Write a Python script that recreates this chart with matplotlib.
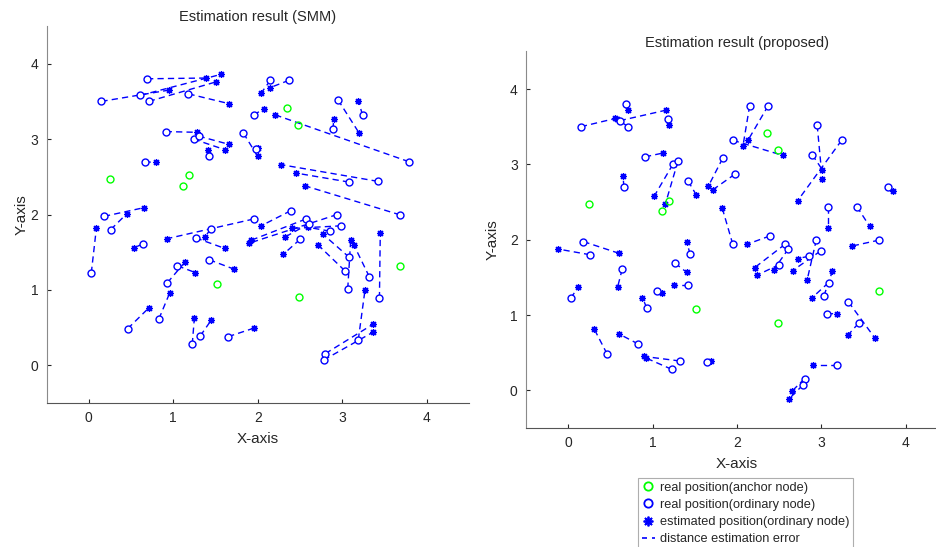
import matplotlib
matplotlib.use("Agg")
import matplotlib.pyplot as plt
from matplotlib.lines import Line2D

plt.rcParams['font.family'] = ['Liberation Sans', 'DejaVu Sans']

# Real positions of ordinary nodes (same in both panels)
real_x = [0.69, 0.15, 0.61, 0.71, 1.18, 0.91, 1.24, 1.30, 0.66, 1.42,
          1.83, 1.975, 1.95, 2.15, 2.37, 1.95, 2.95, 2.89, 3.24, 3.79,
          3.08, 3.42, 2.39, 2.57, 2.61, 2.50, 2.94, 2.99, 2.85, 3.085,
          3.03, 3.065, 3.32, 3.44, 3.19, 2.80, 2.78, 3.685, 0.18, 0.26,
          0.64, 0.03, 1.445, 1.265, 1.425, 1.05, 0.93, 0.46, 0.83, 1.32,
          1.225, 1.65]
real_y = [3.80, 3.50, 3.58, 3.50, 3.60, 3.10, 3.00, 3.04, 2.70, 2.78,
          3.08, 2.87, 1.94, 3.78, 3.78, 3.32, 3.52, 3.13, 3.32, 2.70,
          2.43, 2.44, 2.05, 1.94, 1.88, 1.67, 2.00, 1.85, 1.78, 1.43,
          1.255, 1.015, 1.175, 0.89, 0.34, 0.155, 0.07, 1.995, 1.975, 1.80,
          1.61, 1.225, 1.805, 1.69, 1.40, 1.32, 1.095, 0.485, 0.615, 0.39,
          0.28, 0.38]

# Estimated positions, SMM
smm_x = [1.39, 0.95, 1.57, 1.51, 1.66, 1.28, 1.61, 1.66, 0.79, 1.41,
         2.00, 2.00, 0.93, 2.04, 2.14, 2.07, 3.20, 2.90, 3.19, 2.21,
         2.45, 2.28, 2.04, 1.925, 2.32, 2.30, 1.90, 2.40, 2.595, 2.77,
         2.71, 3.10, 3.14, 3.45, 3.27, 3.365, 3.365, 2.56, 0.65, 0.45,
         0.54, 0.09, 1.37, 1.61, 1.72, 1.26, 1.14, 0.71, 0.96, 1.45,
         1.25, 1.96]
smm_y = [3.81, 3.65, 3.86, 3.76, 3.47, 3.09, 2.86, 2.93, 2.69, 2.86,
         2.77, 2.88, 1.68, 3.61, 3.68, 3.40, 3.08, 3.27, 3.51, 3.32,
         2.55, 2.66, 1.85, 1.66, 1.70, 1.47, 1.62, 1.815, 1.83, 1.74,
         1.60, 1.66, 1.59, 1.75, 1.005, 0.545, 0.44, 2.38, 2.09, 2.01,
         1.56, 1.815, 1.70, 1.55, 1.275, 1.23, 1.37, 0.76, 0.965, 0.60,
         0.63, 0.495]

# Estimated positions, proposed method
prop_x = [0.71, 0.56, 1.16, 0.58, 1.20, 1.12, 1.02, 1.15, 0.65, 1.52,
          1.66, 1.71, 1.825, 2.07, 2.13, 2.54, 3.01, 3.01, 2.72, 3.85,
          3.08, 3.57, 2.12, 2.21, 2.435, 2.24, 2.83, 2.66, 2.72, 2.89,
          3.13, 3.18, 3.63, 3.32, 2.90, 2.65, 2.62, 3.36, 0.60, -0.115,
          0.585, 0.12, 1.405, 1.405, 1.25, 1.11, 0.88, 0.31, 0.60, 0.90,
          0.92, 1.695]
prop_y = [3.72, 3.61, 3.72, 3.60, 3.52, 3.15, 2.58, 2.47, 2.84, 2.59,
          2.71, 2.66, 2.42, 3.24, 3.32, 3.12, 2.80, 2.93, 2.52, 2.65,
          2.16, 2.18, 1.94, 1.63, 1.60, 1.53, 1.46, 1.59, 1.75, 1.23,
          1.58, 1.02, 0.70, 0.74, 0.34, -0.013, -0.11, 1.915, 1.82, 1.875,
          1.37, 1.37, 1.97, 1.565, 1.40, 1.29, 1.23, 0.81, 0.75, 0.45,
          0.43, 0.385]

# Anchor nodes
anchor_x = [0.25, 1.11, 1.19, 2.35, 2.48, 3.68, 1.515, 2.485]
anchor_y = [2.47, 2.375, 2.52, 3.415, 3.19, 1.32, 1.08, 0.90]

titles = ["Estimation result (SMM)", "Estimation result (proposed)"]
ticks = [0, 1, 2, 3, 4]

W, H = 936, 547
fig = plt.figure(figsize=(W / 100, H / 100), dpi=100)

def px_axes(l, r, t, b):
    return fig.add_axes([l / W, (H - b) / H, (r - l) / W, (b - t) / H])

ax1 = px_axes(46.5, 469, 26, 403)
ax2 = px_axes(526, 948, 51.4, 428)

BLUE = (0, 0, 1)
GREEN = (0, 1, 0)
TXT = '#262626'
AST = (8, 2, 0)

def draw(ax, ex, ey, title, ylpad):
    for i in range(len(real_x)):
        ax.plot([real_x[i], ex[i]], [real_y[i], ey[i]], '--', color=BLUE,
                lw=1.0, dashes=(4.5, 3), zorder=2)
    ax.plot(ex, ey, linestyle='none', marker=AST, color=BLUE, ms=5,
            mew=0.9, zorder=3)
    ax.plot(real_x, real_y, linestyle='none', marker='o', mfc='white',
            mec=BLUE, ms=5, mew=1.0, zorder=4)
    ax.plot(anchor_x, anchor_y, linestyle='none', marker='o', mfc='none',
            mec=GREEN, ms=5, mew=1.0, zorder=4)
    ax.set_xlim(-0.5, 4.5)
    ax.set_ylim(-0.5, 4.5)
    ax.set_xticks(ticks)
    ax.set_yticks(ticks)
    ax.tick_params(direction='in', length=3, labelsize=10, colors=TXT,
                   pad=6)
    for s in ['top', 'right']:
        ax.spines[s].set_visible(False)
    ax.spines['left'].set_color('#8a8a8a')
    ax.spines['bottom'].set_color('#555555')
    ax.set_xlabel('X-axis', fontsize=11, color=TXT, labelpad=5)
    ax.set_ylabel('Y-axis', fontsize=11, color=TXT, labelpad=ylpad)
    ax.set_title(title, fontsize=10.5, color=TXT, pad=3.5)

draw(ax1, smm_x, smm_y, titles[0], 1)
draw(ax2, prop_x, prop_y, titles[1], 7)

handles = [
    Line2D([], [], linestyle='none', marker='o', mfc='none', mec=GREEN, ms=6, mew=1.3),
    Line2D([], [], linestyle='none', marker='o', mfc='none', mec=BLUE, ms=6, mew=1.3),
    Line2D([], [], linestyle='none', marker=AST, color=BLUE, ms=7, mew=1.3),
    Line2D([], [], linestyle='--', color=BLUE, lw=1.2, dashes=(3, 3)),
]
labels = ["real position(anchor node)", "real position(ordinary node)",
          "estimated position(ordinary node)", "distance estimation error"]
leg = fig.legend(handles, labels, loc='upper left',
                 bbox_to_anchor=(638 / W, 1 - 478 / H), fontsize=9.2,
                 frameon=True, fancybox=False, handlelength=1.0,
                 handletextpad=0.4, borderpad=0.3, labelspacing=0.4,
                 borderaxespad=0)
leg.get_frame().set_edgecolor('#9a9a9a')
leg.get_frame().set_linewidth(0.8)
for t in leg.get_texts():
    t.set_color(TXT)

fig.savefig('out.png', dpi=100)
